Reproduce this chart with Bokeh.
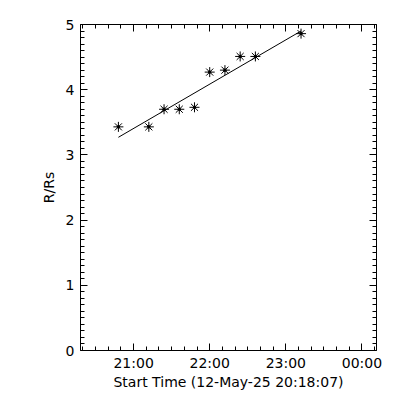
from bokeh.plotting import figure
from bokeh.models import Range1d, FixedTicker, LinearAxis
from bokeh.embed import file_html
from bokeh.resources import INLINE

# ---- data ----
times = ["20:48", "21:12", "21:24", "21:36", "21:48", "22:00", "22:12", "22:24", "22:36", "23:12"]
r_rs = [3.43, 3.43, 3.70, 3.70, 3.73, 4.27, 4.30, 4.51, 4.51, 4.86]

fit_times = ["20:48", "23:12"]
fit_r = [3.27, 4.90]

x_tick_labels = ["21:00", "22:00", "23:00", "00:00"]
y_ticks = [0, 1, 2, 3, 4, 5]

start_label = "20:18:07"
end_label = "00:11:30"
x_title = "Start Time (12-May-25 20:18:07)"
y_title = "R/Rs"


def hours(s):
    parts = [int(v) for v in s.split(":")]
    while len(parts) < 3:
        parts.append(0)
    h = parts[0] + parts[1] / 60 + parts[2] / 3600
    if parts[0] < 20:
        h += 24
    return h - 20


xs = [hours(t) for t in times]
fxs = [hours(t) for t in fit_times]
x0, x1 = hours(start_label), hours(end_label)

x_major = [hours(t) for t in x_tick_labels]
x_minor = [k / 6 for k in range(0, 30) if x0 <= k / 6 <= x1]
y_minor = [k / 10 for k in range(0, 51)]

FONT = "DejaVu Sans"

p = figure(width=392, height=392, output_backend="svg", toolbar_location=None,
           x_range=Range1d(x0, x1), y_range=Range1d(0, 5),
           min_border_left=80, min_border_right=16, min_border_top=24, min_border_bottom=41)
p.xgrid.visible = False
p.ygrid.visible = False
p.outline_line_color = None
p.background_fill_color = "white"
p.border_fill_color = "white"

xt = FixedTicker(ticks=x_major, minor_ticks=x_minor)
yt = FixedTicker(ticks=y_ticks, minor_ticks=y_minor)


def style(ax, labels=True):
    ax.axis_line_color = "black"
    ax.axis_line_width = 1
    ax.major_tick_in = 7
    ax.major_tick_out = 0
    ax.minor_tick_in = 4
    ax.minor_tick_out = 0
    ax.major_tick_line_color = "black"
    ax.minor_tick_line_color = "black"
    ax.major_label_text_font = FONT
    ax.major_label_text_font_size = "14px"
    ax.major_label_text_color = "black" if labels else None
    ax.axis_label_text_font = FONT
    ax.axis_label_text_font_size = "14px"
    ax.axis_label_text_font_style = "normal"
    ax.axis_label_text_color = "black"


xa = p.xaxis[0]
xa.ticker = xt
xa.major_label_overrides = {h: lab for h, lab in zip(x_major, x_tick_labels)}
xa.axis_label = x_title
style(xa)
xa.major_label_standoff = 4
xa.axis_label_standoff = 0

ya = p.yaxis[0]
ya.ticker = yt
ya.major_label_overrides = {v: str(v) for v in y_ticks}
ya.axis_label = y_title
style(ya)
ya.major_label_standoff = 6
ya.axis_label_standoff = 6

top = LinearAxis(ticker=xt)
style(top, labels=False)
top.major_label_standoff = 0
p.add_layout(top, "above")

right = LinearAxis(ticker=yt)
style(right, labels=False)
right.major_label_standoff = 0
p.add_layout(right, "right")

p.line(fxs, fit_r, line_color="black", line_width=1)
p.scatter(xs, r_rs, marker="asterisk", size=10, line_color="black", line_width=1)
p.scatter(xs, r_rs, marker="circle", size=2.5, line_color="black", fill_color="black")

open("out.html", "w").write(file_html(p, INLINE))
